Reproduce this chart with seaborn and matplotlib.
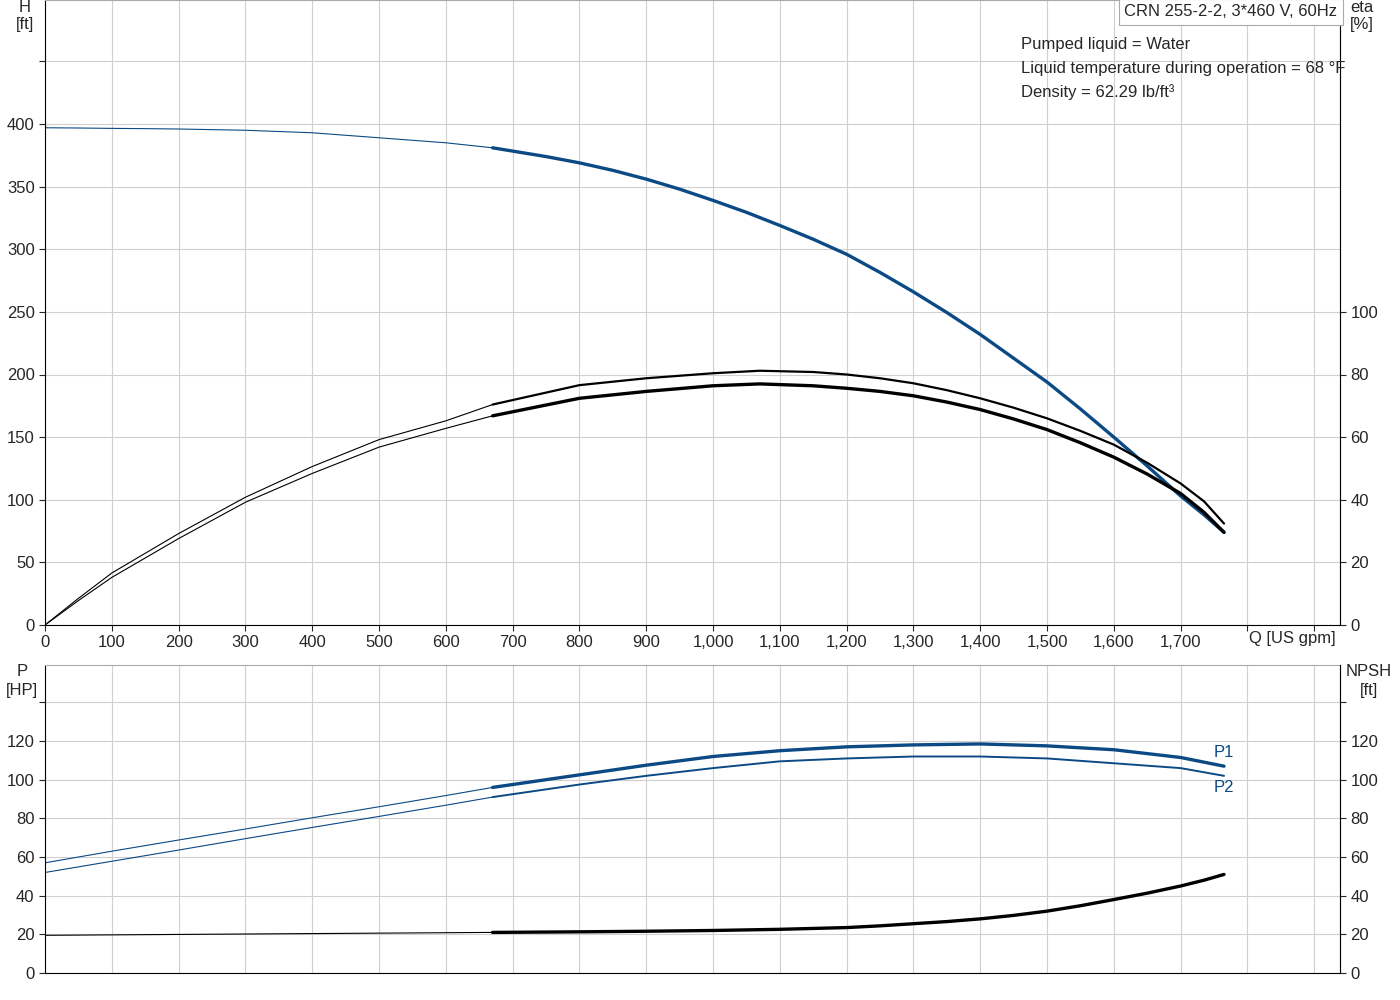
import matplotlib
matplotlib.use("Agg")
import matplotlib.pyplot as plt
import seaborn as sns
import pandas as pd

sns.set_style("white")
plt.rcParams['font.family'] = ['Liberation Sans', 'DejaVu Sans']

q_h = [0, 50, 100, 150, 200, 250, 300, 350, 400, 450, 500, 550, 600, 670, 750, 800, 850, 900, 950, 1000,
       1050, 1100, 1150, 1200, 1250, 1300, 1350, 1400, 1450, 1500, 1550, 1600, 1650, 1700, 1735, 1765]
h = [397, 396.8, 396.5, 396.3, 396, 395.5, 395, 394, 393, 391, 389, 387, 385, 381, 374, 369, 363, 356, 348, 339,
     329.5, 319, 308, 296, 281.5, 266, 249.5, 232, 213, 194, 172.5, 150, 127, 103, 88, 74]

q_eta = [0, 50, 100, 200, 300, 400, 500, 600, 670, 800, 900, 1000, 1070, 1150, 1200, 1250, 1300, 1350,
         1400, 1450, 1500, 1550, 1600, 1650, 1700, 1735, 1765]
eta_a = [0, 8.5, 16.6, 29.2, 40.8, 50.6, 59.2, 65.2, 70.4, 76.6, 78.8, 80.4, 81.2, 80.8, 80, 78.8, 77.2, 75,
         72.4, 69.4, 66, 62, 57.6, 51.8, 45.2, 39.5, 32.4]
eta_b = [0, 7.8, 15.2, 27.6, 39.2, 48.4, 56.8, 62.8, 66.8, 72.4, 74.6, 76.4, 77.0, 76.4, 75.6, 74.6, 73.2, 71.2,
         68.8, 65.8, 62.4, 58.2, 53.6, 48.2, 42.0, 36.0, 29.6]

q_p = [0, 100, 200, 300, 400, 500, 600, 670, 700, 800, 900, 1000, 1100, 1200, 1300, 1400, 1500, 1600, 1700, 1765]
p1 = [57, 63, 68.8, 74.5, 80.3, 86, 91.8, 96, 97.5, 102.5, 107.5, 112, 115, 117, 118, 118.5, 117.5, 115.5, 111.5, 107]
p2 = [52, 57.8, 63.6, 69.5, 75.3, 81, 86.8, 91, 92.5, 97.5, 102, 106, 109.5, 111, 112, 112, 111, 108.5, 106, 102]

q_n = [0, 670, 800, 900, 1000, 1100, 1200, 1250, 1300, 1350, 1400, 1450, 1500, 1550, 1600, 1650, 1700, 1735, 1765]
npsh = [19.5, 21, 21.3, 21.6, 22, 22.6, 23.5, 24.4, 25.5, 26.6, 28, 29.8, 32, 34.8, 38, 41.3, 45, 48, 51]

SPLIT = 670
BLUE = "#0b4a85"
FS = 12

def draw(ax, xs, ys, color, lw_thin=0.8, lw_thick=2.4):
    df = pd.DataFrame({"q": xs, "v": ys})
    thin = df[df.q <= SPLIT]
    thick = df[df.q >= SPLIT]
    sns.lineplot(data=thin, x="q", y="v", ax=ax, color=color, lw=lw_thin, sort=False)
    sns.lineplot(data=thick, x="q", y="v", ax=ax, color=color, lw=lw_thick, sort=False)

fig = plt.figure(figsize=(14, 10), dpi=100)
ax1 = fig.add_axes([45/1400, 1-625/1000, 1295/1400, 625/1000])
ax2 = fig.add_axes([45/1400, 1-973/1000, 1295/1400, 308/1000])
XMAX = 1295/0.668

for ax in (ax1, ax2):
    ax.set_xlim(0, XMAX)
    ax.set_xticks(range(0, 2000, 100))
    ax.grid(True, color="#d0d0d0", lw=0.8)
    ax.set_xlabel(""); ax.set_ylabel("")
    ax.tick_params(labelsize=FS, length=4, direction="out", left=True, bottom=True)
    for s in ax.spines.values():
        s.set_color("#aaaaaa"); s.set_linewidth(0.8)
    ax.spines["left"].set_color("black")
    ax.spines["bottom"].set_color("black")

# top chart
ax1.set_ylim(0, 625/1.2525)
ax1.set_yticks(range(0, 451, 50))
ax1.set_yticklabels([str(v) if v <= 400 else "" for v in range(0, 451, 50)])
ax1.set_xticklabels([f"{v:,}" if v <= 1700 else "" for v in range(0, 2000, 100)])
ax1e = ax1.twinx()
ax1e.set_ylim(0, 625/1.2525/2.5)
ax1e.set_yticks(range(0, 101, 20))
ax1e.tick_params(labelsize=FS, length=4, right=True)
ax1e.spines["right"].set_color("black")
for s in ["top", "left", "bottom"]:
    ax1e.spines[s].set_visible(False)
draw(ax1, q_h, h, BLUE)
draw(ax1e, q_eta, eta_a, "black", lw_thick=1.6)
draw(ax1e, q_eta, eta_b, "black", lw_thick=2.4)
ax1e.set_ylabel("")
ax1.set_xlabel(""); ax1.set_ylabel("")

fig.text(25/1400, 1-8/1000, "H", ha="center", va="center", fontsize=FS)
fig.text(25/1400, 1-25/1000, "[ft]", ha="center", va="center", fontsize=FS)
fig.text(1362/1400, 1-8/1000, "eta", ha="center", va="center", fontsize=FS)
fig.text(1362/1400, 1-25/1000, "[%]", ha="center", va="center", fontsize=FS)
fig.text(1292/1400, 1-639/1000, "Q [US gpm]", ha="center", va="center", fontsize=FS)
fig.text(1231/1400, 1-12/1000, "CRN 255-2-2, 3*460 V, 60Hz", ha="center", va="center", fontsize=FS,
         bbox=dict(boxstyle="square,pad=0.35", fc="white", ec="#aaaaaa", lw=0.8))
for i, t in enumerate(["Pumped liquid = Water",
                       "Liquid temperature during operation = 68 °F",
                       "Density = 62.29 lb/ft³"]):
    fig.text(1021/1400, 1-(44+24*i)/1000, t, ha="left", va="center", fontsize=FS)

# bottom chart
ax2.set_ylim(0, 308/1.933)
ax2.set_yticks(range(0, 141, 20))
ax2.set_yticklabels([str(v) if v <= 120 else "" for v in range(0, 141, 20)])
ax2.set_xticklabels([])
ax2.tick_params(axis="x", length=0)
ax2n = ax2.twinx()
ax2n.set_ylim(0, 308/1.933)
ax2n.set_yticks(range(0, 141, 20))
ax2n.set_yticklabels([str(v) if v <= 120 else "" for v in range(0, 141, 20)])
ax2n.tick_params(labelsize=FS, length=4, right=True)
ax2n.spines["right"].set_color("black")
for s in ["top", "left", "bottom"]:
    ax2n.spines[s].set_visible(False)
draw(ax2, q_p, p1, BLUE, lw_thick=2.4)
draw(ax2, q_p, p2, BLUE, lw_thick=1.4)
draw(ax2n, q_n, npsh, "black", lw_thick=2.4)
ax2.set_xlabel(""); ax2.set_ylabel(""); ax2n.set_ylabel("")
ax2.text(q_p[-1] - 15, p1[-1] + 7, "P1", color=BLUE, fontsize=FS, ha="left", va="center")
ax2.text(q_p[-1] - 15, p2[-1] - 6, "P2", color=BLUE, fontsize=FS, ha="left", va="center")

fig.text(22/1400, 1-672/1000, "P", ha="center", va="center", fontsize=FS)
fig.text(22/1400, 1-690/1000, "[HP]", ha="center", va="center", fontsize=FS)
fig.text(1369/1400, 1-672/1000, "NPSH", ha="center", va="center", fontsize=FS)
fig.text(1369/1400, 1-690/1000, "[ft]", ha="center", va="center", fontsize=FS)

fig.savefig("out.png", dpi=100, facecolor="white")
